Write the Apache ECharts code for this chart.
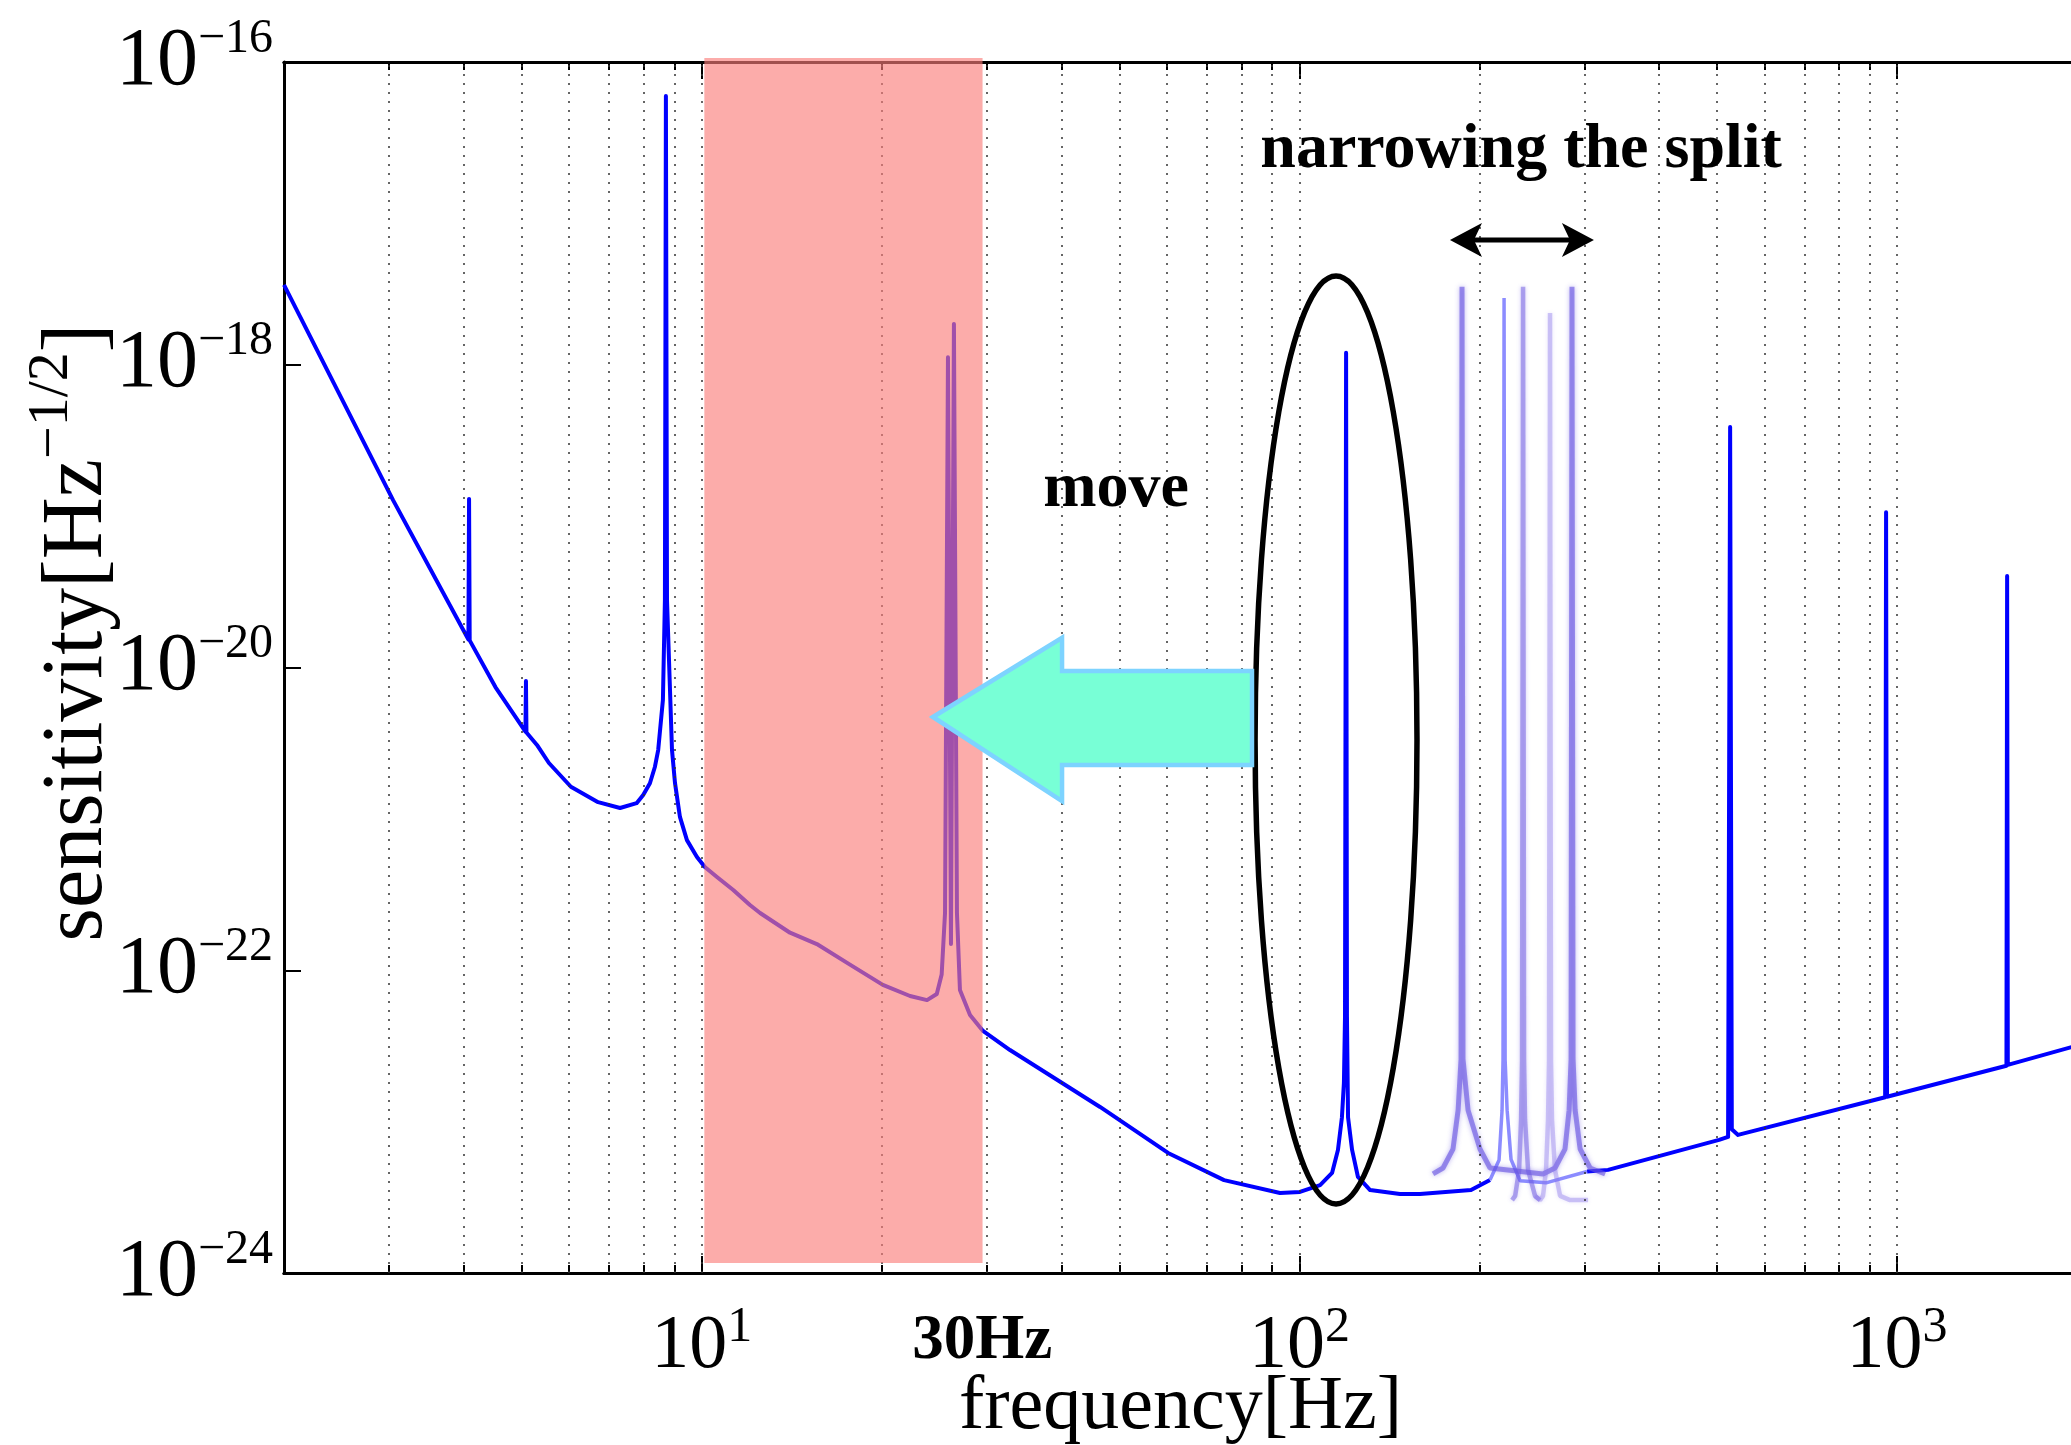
<!DOCTYPE html>
<html><head><meta charset="utf-8">
<script src="https://cdn.jsdelivr.net/npm/echarts@6/dist/echarts.min.js"></script>
<style>html,body{margin:0;padding:0;background:#fff}#c{width:2071px;height:1445px}</style>
</head><body><div id="c"></div>
<script>
const FONT = '"Liberation Serif", "Times New Roman", serif';

// ---- axis ticks / grid lines ----
const xMajorTicks = [10, 100, 1000];
const xMinorTicks = [3,4,5,6,7,8,9,20,30,40,50,60,70,80,90,200,300,400,500,600,700,800,900];
const xGridValues = [3,4,5,6,7,8,9,10,20,30,40,50,60,70,80,90,100,200,300,400,500,600,700,800,900,1000];
const yMajorTicks = [1e-24, 1e-22, 1e-20, 1e-18, 1e-16];
const yGridValues = [1e-22, 1e-20, 1e-18];

// ---- main sensitivity curve (low part) ----
const mainLowFreq = [2.0, 3.043, 4.07, 4.08, 4.09, 4.516, 5.07, 5.08, 5.09, 5.30, 5.55, 6.04, 6.708, 7.30, 7.78, 7.98, 8.19, 8.35, 8.455, 8.61, 8.677, 8.71, 8.747, 8.917, 9.020, 9.194, 9.445, 9.817, 10.12, 10.59, 11.29, 12.04, 12.52, 14.05, 15.58, 17.70, 20.09, 22.31, 23.82, 24.73, 25.20, 25.53, 25.82, 26.12, 26.42, 26.73, 27.04, 28.11, 29.55, 32.79, 46.39, 60.29, 74.8, 92.8, 100.2, 108.3, 113.4, 116.0, 117.8, 118.7, 119.2, 119.7, 120.1, 120.6, 122.5, 125.3, 131.3, 147.3, 159.1, 193.7, 208.4];
const mainLowAmp = [3.37e-18, 1.28e-19, 1.53e-20, 1.30e-19, 1.51e-20, 7.43e-21, 3.77e-21, 8.15e-21, 3.72e-21, 3.08e-21, 2.34e-21, 1.63e-21, 1.29e-21, 1.18e-21, 1.27e-21, 1.44e-21, 1.72e-21, 2.21e-21, 2.85e-21, 6.10e-21, 2.79e-20, 5.96e-17, 2.79e-20, 2.85e-21, 1.73e-21, 1.03e-21, 7.24e-22, 5.60e-22, 4.81e-22, 4.15e-22, 3.39e-22, 2.70e-22, 2.39e-22, 1.77e-22, 1.49e-22, 1.09e-22, 8.00e-23, 6.76e-23, 6.35e-23, 6.97e-23, 9.37e-23, 2.39e-22, 1.12e-18, 1.49e-22, 1.86e-18, 2.39e-22, 7.41e-23, 5.06e-23, 3.97e-23, 2.97e-23, 1.25e-23, 6.21e-24, 4.11e-24, 3.38e-24, 3.43e-24, 3.81e-24, 4.58e-24, 6.50e-24, 1.07e-23, 1.80e-23, 4.91e-23, 1.20e-18, 4.91e-23, 1.07e-23, 6.50e-24, 4.31e-24, 3.53e-24, 3.33e-24, 3.33e-24, 3.53e-24, 4.11e-24];

// ---- main sensitivity curve (high part) ----
const mainHighFreq = [302.9, 328.4, 503.7, 521.5, 525.6, 529, 541.9, 955, 958.5, 962, 1524, 1528, 1532, 2000];
const mainHighAmp = [4.68e-24, 4.80e-24, 7.57e-24, 7.93e-24, 3.88e-19, 8.91e-24, 8.17e-24, 1.45e-23, 1.06e-19, 1.46e-23, 2.34e-23, 4.02e-20, 2.37e-23, 3.18e-23];

// ---- pasted "narrowing the split" peaks ----
const splitFreq = [208.4, 215.8, 218.3, 219.1, 220.0, 220.9, 222.6, 226.0, 234.0, 258.6, 302.9];
const splitAmp = [4.11e-24, 5.58e-24, 1.19e-23, 2.55e-23, 2.76e-18, 2.55e-23, 1.19e-23, 5.62e-24, 4.07e-24, 3.94e-24, 4.68e-24];
const ghostOuterFreq = [167.3, 173.9, 180.7, 184.3, 186.4, 187.1, 187.8, 191.5, 200.5, 208.4, 255.6, 267.7, 278.2, 282.6, 284.8, 285.8, 287.0, 289.3, 294.9, 306.5, 324.7];
const ghostOuterAmp = [4.51e-24, 4.94e-24, 6.59e-24, 1.19e-23, 2.59e-23, 3.27e-18, 2.59e-23, 1.19e-23, 6.59e-24, 4.94e-24, 4.51e-24, 4.94e-24, 6.59e-24, 1.19e-23, 2.59e-23, 3.27e-18, 2.59e-23, 1.19e-23, 6.59e-24, 4.94e-24, 4.51e-24];
const ghostCFreq = [226.9, 229.6, 233.1, 234.9, 235.8, 236.7, 237.6, 238.5, 241.3, 247.9, 252.7];
const ghostCAmp = [3.03e-24, 3.23e-24, 4.79e-24, 1.03e-23, 2.55e-23, 3.27e-18, 2.55e-23, 1.03e-23, 4.79e-24, 3.23e-24, 3.03e-24];
const ghostDFreq = [247.9, 252.7, 255.6, 258.6, 260.6, 261.6, 262.6, 263.6, 264.6, 267.7, 273.0, 283.7, 304.1];
const ghostDAmp = [3.23e-24, 3.03e-24, 3.23e-24, 4.79e-24, 1.03e-23, 2.55e-23, 2.20e-18, 2.55e-23, 1.03e-23, 4.79e-24, 3.23e-24, 3.03e-24, 3.03e-24];

// ---- annotation anchors (data space) ----
const bandFreq = [10.1, 29.5];
const ellipseFreq = [84.3, 157.3];
const ellipseAmp = [3.86e-18, 2.86e-24];
const moveArrowFreq = {tip: 24.37, head: 40.07, tail: 83.3};
const moveArrowAmp = {tip: 4.71e-21, headTop: 1.57e-20, headBottom: 1.31e-21, bodyTop: 9.48e-21, bodyBottom: 2.27e-21};
const splitArrowFreq = [178.6, 311.0];
const splitArrowAmp = 6.67e-18;
const pasteBoxFreq = [157.3, 331];
const pasteBoxAmp = [4.56e-18, 2.07e-24];
const labelNarrow = {text: 'narrowing the split', f: 234.9, v: 2.62e-17};
const labelMove = {text: 'move', f: 49.36, v: 1.51e-19};
const label30 = {text: '30Hz', f: 29.46};

const zip = (a, b) => a.map((v, i) => [v, b[i]]);

const xBase = {
  type: 'log', logBase: 10, min: 2, max: 2000, gridIndex: 0,
  splitLine: {show: false}, minorTick: {show: false}, minorSplitLine: {show: false},
  axisLine: {show: true, onZero: false, lineStyle: {color: '#000', width: 3}}
};
const xLabelFmt = v => '{b|10}{s|' + Math.round(Math.log10(v)) + '}';
const yLabelFmt = v => '{b|10}{s|\u2212' + Math.abs(Math.round(Math.log10(v))) + '}';

const option = {
  animation: false,
  backgroundColor: '#fff',
  grid: {left: 284, top: 62, right: -6, bottom: 172, containLabel: false, outerBoundsMode: 'none'},
  xAxis: [
    Object.assign({}, xBase, {
      position: 'bottom',
      axisTick: {show: true, inside: true, length: 17, lineStyle: {color: '#000', width: 2}, customValues: xMajorTicks},
      axisLabel: {show: true, customValues: xMajorTicks, formatter: xLabelFmt, margin: 30,
        rich: {
          b: {fontSize: 76, lineHeight: 88, fontFamily: FONT, color: '#000'},
          s: {fontSize: 50, lineHeight: 12, verticalAlign: 'top', fontFamily: FONT, color: '#000'}
        }},
      name: 'frequency[Hz]', nameLocation: 'middle', nameGap: 97, nameMoveOverlap: false,
      nameTextStyle: {fontSize: 76, lineHeight: 76, fontFamily: FONT, color: '#000'}
    }),
    Object.assign({}, xBase, {
      position: 'bottom',
      axisTick: {show: true, inside: true, length: 8, lineStyle: {color: '#000', width: 2}, customValues: xMinorTicks},
      axisLabel: {show: false}
    }),
    Object.assign({}, xBase, {
      position: 'top',
      axisTick: {show: true, inside: true, length: 17, lineStyle: {color: '#000', width: 2}, customValues: xMajorTicks},
      axisLabel: {show: false}
    }),
    Object.assign({}, xBase, {
      position: 'top',
      axisTick: {show: true, inside: true, length: 8, lineStyle: {color: '#000', width: 2}, customValues: xMinorTicks},
      axisLabel: {show: false}
    })
  ],
  yAxis: [{
    type: 'log', logBase: 10, min: 1e-24, max: 1e-16, position: 'left', gridIndex: 0,
    splitLine: {show: false}, minorTick: {show: false},
    axisLine: {show: true, onZero: false, lineStyle: {color: '#000', width: 3}},
    axisTick: {show: true, inside: true, length: 17, lineStyle: {color: '#000', width: 2}, customValues: yMajorTicks},
    axisLabel: {show: true, customValues: yMajorTicks, formatter: yLabelFmt, margin: 11,
      rich: {
        b: {fontSize: 82, lineHeight: 94, fontFamily: FONT, color: '#000'},
        s: {fontSize: 48, lineHeight: 32, verticalAlign: 'top', fontFamily: FONT, color: '#000'}
      }},
    name: '{a|sensitivity[Hz}{s|\u22121/2}{a|]}', nameLocation: 'middle', nameRotate: 90, nameGap: 151, nameMoveOverlap: false,
    nameTextStyle: {fontFamily: FONT, color: '#000', padding: [0, 0, 0, 70], rich: {
      a: {fontSize: 86, lineHeight: 110, fontFamily: FONT, color: '#000'},
      s: {fontSize: 58, lineHeight: 46, verticalAlign: 'top', fontFamily: FONT, color: '#000'}
    }}
  }],
  series: [
    {
      name: 'grid', type: 'line', data: [[2, 1e-24]], showSymbol: false, silent: true, z: 1,
      lineStyle: {width: 0},
      markLine: {
        silent: true, symbol: ['none', 'none'], label: {show: false}, animation: false,
        lineStyle: {type: [2, 7], color: '#333', width: 1.5},
        emphasis: {disabled: true},
        data: xGridValues.map(v => ({xAxis: v})).concat(yGridValues.map(v => ({yAxis: v})))
      }
    },
    {name: 'main-low', type: 'line', data: zip(mainLowFreq, mainLowAmp), showSymbol: false, silent: true, z: 3,
      lineStyle: {color: '#0000ff', width: 4, join: 'round'}},
    {name: 'main-high', type: 'line', data: zip(mainHighFreq, mainHighAmp), showSymbol: false, silent: true, z: 3,
      lineStyle: {color: '#0000ff', width: 4, join: 'round'}},
    {name: 'split', type: 'line', data: zip(splitFreq, splitAmp), showSymbol: false, silent: true, z: 4,
      lineStyle: {color: 'rgba(120,120,255,0.85)', width: 3.5}},
    {name: 'ghost-outer', type: 'line', data: zip(ghostOuterFreq, ghostOuterAmp), showSymbol: false, silent: true, z: 4,
      lineStyle: {color: 'rgba(100,80,225,0.6)', width: 5, shadowBlur: 5, shadowColor: 'rgba(100,80,225,0.7)'}},
    {name: 'ghost-c', type: 'line', data: zip(ghostCFreq, ghostCAmp), showSymbol: false, silent: true, z: 4,
      lineStyle: {color: 'rgba(110,90,225,0.5)', width: 4.5, shadowBlur: 4, shadowColor: 'rgba(110,90,225,0.6)'}},
    {name: 'ghost-d', type: 'line', data: zip(ghostDFreq, ghostDAmp), showSymbol: false, silent: true, z: 4,
      lineStyle: {color: 'rgba(140,120,235,0.4)', width: 4.5, shadowBlur: 4, shadowColor: 'rgba(140,120,235,0.5)'}}
  ]
};

const chart = echarts.init(document.getElementById('c'), null, {renderer: 'canvas'});
chart.setOption(option);

const P = (f, v) => chart.convertToPixel({xAxisIndex: 0, yAxisIndex: 0}, [f, v]);
const yAxisBottom = P(10, 1e-24)[1];
const yAxisTop = P(10, 1e-16)[1];

const b0 = P(bandFreq[0], 1e-20)[0], b1 = P(bandFreq[1], 1e-20)[0];
const e0 = P(ellipseFreq[0], ellipseAmp[0]), e1 = P(ellipseFreq[1], ellipseAmp[1]);
const pb0 = P(pasteBoxFreq[0], pasteBoxAmp[0]), pb1 = P(pasteBoxFreq[1], pasteBoxAmp[1]);
const mxTip = P(moveArrowFreq.tip, moveArrowAmp.tip);
const mxHead = P(moveArrowFreq.head, 1e-20)[0];
const mxTail = P(moveArrowFreq.tail, 1e-20)[0];
const myHT = P(10, moveArrowAmp.headTop)[1], myHB = P(10, moveArrowAmp.headBottom)[1];
const myBT = P(10, moveArrowAmp.bodyTop)[1], myBB = P(10, moveArrowAmp.bodyBottom)[1];
const sL = P(splitArrowFreq[0], splitArrowAmp), sR = P(splitArrowFreq[1], splitArrowAmp);
const ay = sL[1];
const hl = 32, hh = 17, notch = 8;

const tNarrow = P(labelNarrow.f, labelNarrow.v);
const tMove = P(labelMove.f, labelMove.v);
const t30x = P(label30.f, 1e-20)[0];

chart.setOption({
  graphic: {elements: [
    {type: 'rect', z: 2, silent: true, shape: {x: pb0[0], y: pb0[1], width: pb1[0] - pb0[0], height: pb1[1] - pb0[1]},
      style: {fill: 'rgba(255,255,255,0.72)'}},
    {type: 'rect', z: 5, silent: true, shape: {x: b0, y: yAxisTop - 4, width: b1 - b0, height: (yAxisBottom - 10) - (yAxisTop - 4)},
      style: {fill: 'rgba(250,125,122,0.64)'}},
    {type: 'ellipse', z: 6, silent: true,
      shape: {cx: (e0[0] + e1[0]) / 2, cy: (e0[1] + e1[1]) / 2, rx: (e1[0] - e0[0]) / 2, ry: (e1[1] - e0[1]) / 2},
      style: {fill: 'none', stroke: '#000', lineWidth: 5.5}},
    {type: 'polygon', z: 6, silent: true,
      shape: {points: [[mxTip[0], mxTip[1]], [mxHead, myHT], [mxHead, myBT], [mxTail, myBT], [mxTail, myBB], [mxHead, myBB], [mxHead, myHB]]},
      style: {fill: '#78FFD6', stroke: '#7DD3FF', lineWidth: 4.5, lineJoin: 'miter'}},
    {type: 'line', z: 6, silent: true, shape: {x1: sL[0] + 20, y1: ay, x2: sR[0] - 20, y2: ay},
      style: {stroke: '#000', lineWidth: 5}},
    {type: 'polygon', z: 6, silent: true,
      shape: {points: [[sL[0], ay], [sL[0] + hl, ay - hh], [sL[0] + hl - notch, ay], [sL[0] + hl, ay + hh]]},
      style: {fill: '#000'}},
    {type: 'polygon', z: 6, silent: true,
      shape: {points: [[sR[0], ay], [sR[0] - hl, ay - hh], [sR[0] - hl + notch, ay], [sR[0] - hl, ay + hh]]},
      style: {fill: '#000'}},
    {type: 'text', z: 6, silent: true, style: {text: labelNarrow.text, x: tNarrow[0], y: tNarrow[1],
      font: 'bold 64px ' + FONT, fill: '#000', align: 'center', verticalAlign: 'middle'}},
    {type: 'text', z: 6, silent: true, style: {text: labelMove.text, x: tMove[0], y: tMove[1],
      font: 'bold 64px ' + FONT, fill: '#000', align: 'center', verticalAlign: 'middle'}},
    {type: 'text', z: 6, silent: true, style: {text: label30.text, x: t30x, y: yAxisBottom + 69,
      font: 'bold 63px ' + FONT, fill: '#000', align: 'center', verticalAlign: 'middle'}}
  ]}
});
</script>
</body></html>
